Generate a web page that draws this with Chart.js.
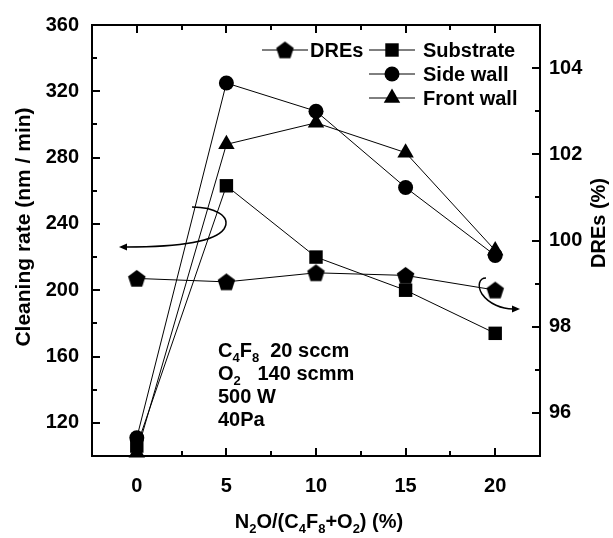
<!DOCTYPE html>
<html>
<head>
<meta charset="utf-8">
<script src="https://cdn.jsdelivr.net/npm/chart.js@4.4.0/dist/chart.umd.min.js"></script>
<style>
  html, body { margin: 0; padding: 0; background: #fff; }
</style>
</head>
<body>
<canvas id="chart" width="613" height="538"></canvas>
<script>
// N2O / (C4F8 + O2) ratio, %
const ratio = [0, 5, 10, 15, 20];
// cleaning rate, nm/min (left axis)
const substrate = [106, 263, 220, 200, 174];
const sideWall = [111, 325, 308, 262, 221];
const frontWall = [102, 288, 301, 283, 224];
// DREs, % (right axis)
const dres = [99.12, 99.04, 99.25, 99.19, 98.85];

// tick labels
const xTicks = [0, 5, 10, 15, 20];
const xMinor = [2.5, 7.5, 12.5, 17.5];
const leftTicks = [120, 160, 200, 240, 280, 320, 360];
const leftMinor = [140, 180, 220, 260, 300, 340];
const rightTicks = [96, 98, 100, 102, 104];
const rightMinor = [97, 99, 101, 103];

const FONT = '"Liberation Sans", Arial, sans-serif';

// pentagon marker (Chart.js has no pentagon point style)
function pentagonMarker(r) {
  const c = document.createElement('canvas');
  const s = Math.ceil(r * 2) + 2;
  c.width = s; c.height = s;
  const g = c.getContext('2d');
  g.fillStyle = '#000';
  g.beginPath();
  for (let i = 0; i < 5; i++) {
    const a = -Math.PI / 2 + i * 2 * Math.PI / 5;
    g.lineTo(s / 2 + r * Math.cos(a), s / 2 + 0.8 + r * Math.sin(a));
  }
  g.closePath();
  g.fill();
  return c;
}
const pentagon = pentagonMarker(9.2);

function toPoints(ys) {
  return ratio.map((x, i) => ({ x: x, y: ys[i] }));
}

function series(label, ys, style, radius, axis) {
  return {
    label: label,
    data: toPoints(ys),
    yAxisID: axis,
    borderColor: '#000',
    borderWidth: 1,
    backgroundColor: '#000',
    pointStyle: style,
    pointRadius: radius,
    pointHoverRadius: radius,
    pointBorderWidth: 0,
    pointBackgroundColor: '#000',
    tension: 0,
    clip: false
  };
}

// text with subscripts: parts = [[text, isSub], ...]
function drawRich(ctx, parts, x, y, size, align) {
  const big = 'bold ' + size + 'px ' + FONT;
  const small = 'bold ' + Math.round(size * 0.65) + 'px ' + FONT;
  let total = 0;
  parts.forEach(p => { ctx.font = p[1] ? small : big; total += ctx.measureText(p[0]).width; });
  let cx = align === 'center' ? x - total / 2 : x;
  ctx.textAlign = 'left';
  ctx.textBaseline = 'middle';
  parts.forEach(p => {
    ctx.font = p[1] ? small : big;
    ctx.fillText(p[0], cx, p[1] ? y + size * 0.38 : y);
    cx += ctx.measureText(p[0]).width;
  });
}

function arrowHead(ctx, x, y, angle, len, half) {
  ctx.save();
  ctx.translate(x, y);
  ctx.rotate(angle);
  ctx.beginPath();
  ctx.moveTo(0, 0);
  ctx.lineTo(-len, -half);
  ctx.lineTo(-len, half);
  ctx.closePath();
  ctx.fill();
  ctx.restore();
}

const framePlugin = {
  id: 'frame',
  afterDatasetsDraw(chart) {
    const ctx = chart.ctx;
    const a = chart.chartArea;
    const xs = chart.scales.x, yl = chart.scales.y, yr = chart.scales.y1;
    ctx.save();
    ctx.strokeStyle = '#000';
    ctx.fillStyle = '#000';
    ctx.lineWidth = 2;
    ctx.strokeRect(a.left, a.top, a.right - a.left, a.bottom - a.top);

    // inward ticks
    ctx.beginPath();
    const tickX = (vals, len) => vals.forEach(v => {
      const px = Math.round(xs.getPixelForValue(v));
      ctx.moveTo(px, a.bottom); ctx.lineTo(px, a.bottom - len);
      ctx.moveTo(px, a.top); ctx.lineTo(px, a.top + len);
    });
    tickX(xTicks, 8); tickX(xMinor, 5);
    const tickL = (vals, len) => vals.forEach(v => {
      const py = Math.round(yl.getPixelForValue(v));
      ctx.moveTo(a.left, py); ctx.lineTo(a.left + len, py);
    });
    tickL(leftTicks, 8); tickL(leftMinor, 5);
    const tickR = (vals, len) => vals.forEach(v => {
      const py = Math.round(yr.getPixelForValue(v));
      ctx.moveTo(a.right, py); ctx.lineTo(a.right - len, py);
    });
    tickR(rightTicks, 8); tickR(rightMinor, 5);
    ctx.stroke();

    // curved arrows pointing at the axes
    ctx.lineWidth = 1.5;
    ctx.beginPath();
    ctx.moveTo(192, 207);
    ctx.bezierCurveTo(214, 207, 232, 216, 224, 229);
    ctx.bezierCurveTo(214, 243, 175, 247, 126, 247);
    ctx.stroke();
    arrowHead(ctx, 119, 247, Math.PI, 8, 3.5);

    ctx.beginPath();
    ctx.moveTo(486, 278);
    ctx.bezierCurveTo(479, 278, 477, 286, 482, 294);
    ctx.bezierCurveTo(489, 304, 502, 309, 513, 309);
    ctx.stroke();
    arrowHead(ctx, 520, 309, 0, 8, 3.5);
    ctx.restore();
  },
  afterDraw(chart) {
    const ctx = chart.ctx;
    const H = Chart.helpers;
    ctx.save();
    ctx.fillStyle = '#000';
    ctx.strokeStyle = '#000';

    // legend
    const rows = [
      { x: 262, y: 50, style: pentagon, r: 9, label: 'DREs', gap: 48 },
      { x: 369, y: 50, style: 'rect', r: 9.5, label: 'Substrate', gap: 54 },
      { x: 369, y: 74, style: 'circle', r: 7.5, label: 'Side wall', gap: 54 },
      { x: 369, y: 98, style: 'triangle', r: 9.5, label: 'Front wall', gap: 54 }
    ];
    rows.forEach(it => {
      ctx.lineWidth = 1;
      ctx.beginPath();
      ctx.moveTo(it.x, it.y); ctx.lineTo(it.x + 46, it.y);
      ctx.stroke();
      H.drawPoint(ctx, { pointStyle: it.style, radius: it.r, rotation: 0, borderWidth: 0 }, it.x + 23, it.y);
      ctx.font = 'bold 20px ' + FONT;
      ctx.textAlign = 'left';
      ctx.textBaseline = 'middle';
      ctx.fillText(it.label, it.x + it.gap, it.y + 1);
    });

    // process conditions
    drawRich(ctx, [['C', 0], ['4', 1], ['F', 0], ['8', 1], ['  20 sccm', 0]], 218, 351, 20, 'left');
    drawRich(ctx, [['O', 0], ['2', 1], ['   140 scmm', 0]], 218, 374, 20, 'left');
    drawRich(ctx, [['500 W', 0]], 218, 397, 20, 'left');
    drawRich(ctx, [['40Pa', 0]], 218, 420, 20, 'left');

    // axis titles
    ctx.save();
    ctx.translate(24, 227);
    ctx.rotate(-Math.PI / 2);
    ctx.font = 'bold 21px ' + FONT;
    ctx.textAlign = 'center';
    ctx.textBaseline = 'middle';
    ctx.fillText('Cleaning rate (nm / min)', 0, 0);
    ctx.restore();

    ctx.save();
    ctx.translate(599, 223);
    ctx.rotate(-Math.PI / 2);
    ctx.font = 'bold 20px ' + FONT;
    ctx.textAlign = 'center';
    ctx.textBaseline = 'middle';
    ctx.fillText('DREs (%)', 0, 0);
    ctx.restore();

    drawRich(ctx, [['N', 0], ['2', 1], ['O/(C', 0], ['4', 1], ['F', 0], ['8', 1], ['+O', 0], ['2', 1], [') (%)', 0]], 319, 522, 20, 'center');
    ctx.restore();
  }
};

Chart.defaults.font.family = FONT;
Chart.defaults.font.weight = 'bold';
Chart.defaults.font.size = 20;
Chart.defaults.color = '#000';

new Chart(document.getElementById('chart'), {
  type: 'line',
  data: {
    datasets: [
      series('DREs', dres, pentagon, 9, 'y1'),
      series('Substrate', substrate, 'rect', 9.5, 'y'),
      series('Side wall', sideWall, 'circle', 7.5, 'y'),
      series('Front wall', frontWall, 'triangle', 9.5, 'y')
    ]
  },
  options: {
    responsive: false,
    animation: false,
    devicePixelRatio: 1,
    layout: { padding: { top: 20, left: 0, right: 0, bottom: 0 } },
    plugins: { legend: { display: false }, tooltip: { enabled: false } },
    scales: {
      x: {
        type: 'linear',
        min: -2.5,
        max: 22.5,
        grid: { display: false, drawTicks: false },
        border: { display: false },
        afterBuildTicks: s => { s.ticks = xTicks.map(v => ({ value: v })); },
        afterFit: s => { s.height = 82; },
        ticks: { padding: 18, maxRotation: 0, callback: v => String(v) }
      },
      y: {
        type: 'linear',
        position: 'left',
        min: 100,
        max: 360,
        grid: { display: false, drawTicks: false },
        border: { display: false },
        afterBuildTicks: s => { s.ticks = leftTicks.map(v => ({ value: v })); },
        afterFit: s => { s.width = 92; },
        ticks: { padding: 13, callback: v => String(v) }
      },
      y1: {
        type: 'linear',
        position: 'right',
        min: 95,
        max: 105,
        grid: { display: false, drawTicks: false },
        border: { display: false },
        afterBuildTicks: s => { s.ticks = rightTicks.map(v => ({ value: v })); },
        afterFit: s => { s.width = 73; },
        ticks: { padding: 9, callback: v => String(v) }
      }
    }
  },
  plugins: [framePlugin]
});
</script>
</body>
</html>
